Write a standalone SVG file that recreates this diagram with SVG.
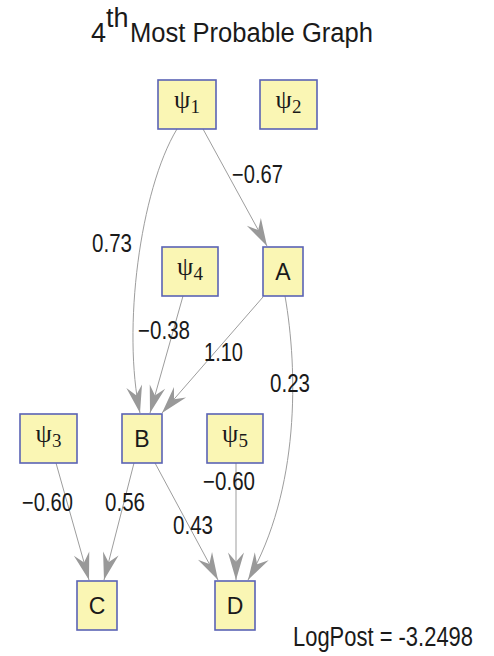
<svg xmlns="http://www.w3.org/2000/svg" width="494" height="656" viewBox="0 0 494 656">
  <style>
    .box { fill: #faf6b4; stroke: #5a63b5; stroke-width: 1.6; }
    .edge { fill: none; stroke: #9d9d9d; stroke-width: 1; }
    .lbl { font-family: "Liberation Sans", Arial, sans-serif; font-size: 25px; fill: #1a1a1a; }
    .nl { font-family: "Liberation Sans", Arial, sans-serif; font-size: 23px; fill: #1a1a1a; text-anchor: middle; }
    .psi { font-family: "Liberation Serif", "Times New Roman", serif; font-size: 26px; fill: #1a1a1a; text-anchor: middle; }
    .sub { font-size: 19px; }
    .title { font-family: "Liberation Sans", Arial, sans-serif; font-size: 27px; fill: #1a1a1a; }
  </style>
  <defs>
    <marker id="arrow" markerUnits="userSpaceOnUse" markerWidth="32" markerHeight="22" viewBox="-26 -9 28 18" refX="0" refY="0" orient="auto">
      <path d="M0,0 L-24,-7 L-16,0 L-24,7 Z" fill="#999999"/>
    </marker>
  </defs>

  <rect width="494" height="656" fill="#ffffff"/>

  <!-- title -->
  <g id="title">
    <text class="title" x="91" y="42">4</text>
    <text class="title" x="106" y="27" font-size="15">th</text>
    <text class="title" x="130" y="42" textLength="243" lengthAdjust="spacingAndGlyphs">Most Probable Graph</text>
  </g>

  <!-- connectors -->
  <g id="edges">
    <path class="edge" marker-end="url(#arrow)" d="M177,129 C140,190 122,330 140,413"/>
    <path class="edge" marker-end="url(#arrow)" d="M203,129 L267,246"/>
    <path class="edge" marker-end="url(#arrow)" d="M183,296 L150,413"/>
    <path class="edge" marker-end="url(#arrow)" d="M263,297 L162,413"/>
    <path class="edge" marker-end="url(#arrow)" d="M285,296 C298,370 300,490 248,580"/>
    <path class="edge" marker-end="url(#arrow)" d="M56,463 L89,580"/>
    <path class="edge" marker-end="url(#arrow)" d="M134,463 L104,580"/>
    <path class="edge" marker-end="url(#arrow)" d="M155,463 L218,580"/>
    <path class="edge" marker-end="url(#arrow)" d="M236,463 L236,580"/>
  </g>

  <!-- edge weights -->
  <g id="weights">
    <text class="lbl" x="92" y="252" textLength="40" lengthAdjust="spacingAndGlyphs">0.73</text>
    <text class="lbl" x="232" y="183" textLength="51" lengthAdjust="spacingAndGlyphs">−0.67</text>
    <text class="lbl" x="138" y="339" textLength="52" lengthAdjust="spacingAndGlyphs">−0.38</text>
    <text class="lbl" x="204" y="361" textLength="39" lengthAdjust="spacingAndGlyphs">1.10</text>
    <text class="lbl" x="270" y="392" textLength="40" lengthAdjust="spacingAndGlyphs">0.23</text>
    <text class="lbl" x="22" y="511" textLength="51" lengthAdjust="spacingAndGlyphs">−0.60</text>
    <text class="lbl" x="105" y="511" textLength="40" lengthAdjust="spacingAndGlyphs">0.56</text>
    <text class="lbl" x="173" y="534" textLength="40" lengthAdjust="spacingAndGlyphs">0.43</text>
    <text class="lbl" x="203" y="490" textLength="52" lengthAdjust="spacingAndGlyphs">−0.60</text>
  </g>

  <!-- nodes -->
  <g id="psi1">
    <rect class="box" x="158" y="80" width="58" height="49"/>
    <text class="psi" x="187" y="108">ψ<tspan class="sub" dy="5">1</tspan></text>
  </g>
  <g id="psi2">
    <rect class="box" x="260" y="80" width="57" height="49"/>
    <text class="psi" x="288.5" y="108">ψ<tspan class="sub" dy="5">2</tspan></text>
  </g>
  <g id="psi4">
    <rect class="box" x="162" y="247" width="56" height="49"/>
    <text class="psi" x="190" y="275">ψ<tspan class="sub" dy="5">4</tspan></text>
  </g>
  <g id="A">
    <rect class="box" x="263" y="247" width="40" height="49"/>
    <text class="nl" x="283" y="280">A</text>
  </g>
  <g id="psi3">
    <rect class="box" x="20" y="414" width="57" height="49"/>
    <text class="psi" x="48.5" y="442">ψ<tspan class="sub" dy="5">3</tspan></text>
  </g>
  <g id="B">
    <rect class="box" x="122" y="414" width="40" height="49"/>
    <text class="nl" x="142" y="447">B</text>
  </g>
  <g id="psi5">
    <rect class="box" x="207" y="414" width="56" height="49"/>
    <text class="psi" x="235" y="442">ψ<tspan class="sub" dy="5">5</tspan></text>
  </g>
  <g id="C">
    <rect class="box" x="77" y="581" width="40" height="49"/>
    <text class="nl" x="97" y="614">C</text>
  </g>
  <g id="D">
    <rect class="box" x="215" y="581" width="40" height="49"/>
    <text class="nl" x="235" y="614">D</text>
  </g>

  <!-- score -->
  <text class="title" x="293" y="646" font-size="26" textLength="180" lengthAdjust="spacingAndGlyphs">LogPost = -3.2498</text>
</svg>
